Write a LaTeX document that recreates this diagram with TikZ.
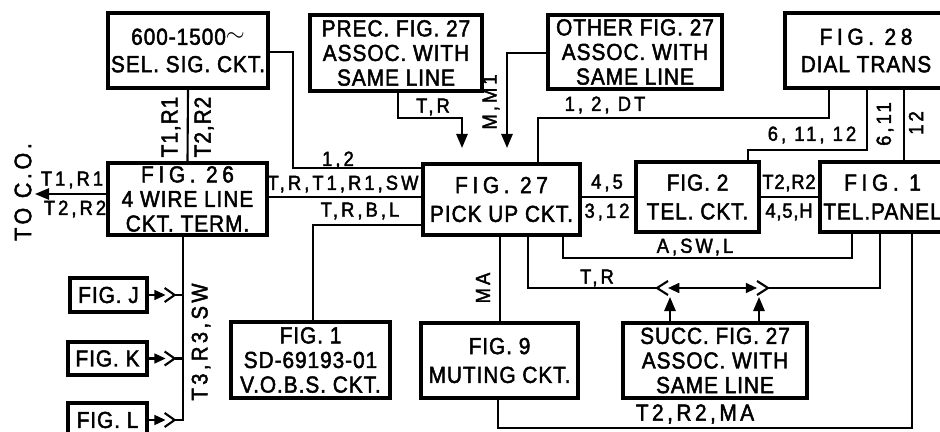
\documentclass[tikz,border=0pt]{standalone}
\usepackage{fontspec}
\setmainfont{Liberation Sans}
\newfontfamily\letterfont[LetterSpace=4,FakeStretch=0.9,FakeBold=2]{Liberation Sans}
\newfontfamily\labelfont[LetterSpace=15,FakeStretch=0.9,FakeBold=2]{Liberation Sans}
\newcommand\wide[1]{{\addfontfeature{LetterSpace=20}#1}}
\usetikzlibrary{arrows.meta,calc}

\tikzset{
  blk/.style={draw, line width=2.3pt, align=center, inner sep=1pt,
    font=\letterfont\fontsize{16.5}{17.5}\selectfont},
  conn/.style={line width=1.5pt},
  lab/.style={inner sep=0pt, font=\labelfont\fontsize{14.5}{15}\selectfont},
  arrowline/.style={conn, -{Triangle[length=10pt,width=8pt]}},
  plugline/.style={conn, -{Triangle[length=8pt,width=7pt]}},
}

\begin{document}
\begin{tikzpicture}[x=0.025cm, y=-0.025cm]
\useasboundingbox (0,0) rectangle (940,432);
\clip (0,0) rectangle (940,432);

% boxes
\node[blk, minimum width=4cm,    minimum height=1.875cm] (sel)    at (188,50.5)     {600-1500\raisebox{.3ex}{$\sim$}\\[2pt]SEL. SIG. CKT.};
\node[blk, minimum width=4.3cm,  minimum height=1.9cm]   (prec)   at (396,53)       {PREC. FIG. 27\\ASSOC. WITH\\SAME LINE};
\node[blk, minimum width=4.35cm, minimum height=1.85cm]  (other)  at (635,52)       {OTHER FIG. 27\\ASSOC. WITH\\SAME LINE};
\node[blk, minimum width=4.05cm, minimum height=1.875cm] (dial)   at (866,50.5)     {\wide{FIG. 28}\\[2pt]DIAL TRANS};
\node[blk, minimum width=3.975cm,minimum height=1.8cm]   (term)   at (187.5,199)    {\wide{FIG. 26}\\4 WIRE LINE\\CKT. TERM.};
\node[blk, minimum width=3.925cm,minimum height=1.775cm] (pick)   at (501.5,199.5)  {\wide{FIG. 27}\\[3pt]PICK UP CKT.};
\node[blk, minimum width=3.075cm,minimum height=1.75cm]  (tel)    at (697.5,197)    {FIG. 2\\[3pt]TEL. CKT.};
\node[blk, minimum width=3.125cm,minimum height=1.75cm]  (panel)  at (882.5,197)    {\wide{FIG. 1}\\[3pt]TEL.PANEL};
\node[blk, minimum width=3.975cm,minimum height=1.9cm]   (vobs)   at (310.5,360)    {FIG. 1\\SD-69193-01\\V.O.B.S. CKT.};
\node[blk, minimum width=3.925cm,minimum height=1.875cm] (muting) at (499.5,360.5)  {FIG. 9\\[3pt]MUTING CKT.};
\node[blk, minimum width=4.6cm,  minimum height=1.875cm] (succ)   at (715,360.5)    {SUCC. FIG. 27\\ASSOC. WITH\\SAME LINE};
\node[blk, minimum width=1.925cm,minimum height=0.85cm]  (figj)   at (108.5,295)    {FIG. J};
\node[blk, minimum width=1.975cm,minimum height=0.825cm] (figk)   at (107.5,358.5)  {FIG. K};
\node[blk, minimum width=1.975cm,minimum height=0.85cm]  (figl)   at (107.5,420)    {FIG. L};

% left side
\draw[conn] (sel.south) -- (term.north);
\draw[arrowline] (term.west |- 0,194) -- (35,194);
\foreach \f in {j,k,l} {
  \draw[plugline] (fig\f.east) -- ++(17,0);
  \draw[conn] ($(fig\f.east)+(16,-7)$) -- ++(10,7) coordinate (v\f) -- ++(-10,7);
}
\draw[conn] (term.south -| 183,0) |- (vl);
\draw[conn] (vj) -- (vj -| 183,0);
\draw[conn] (vk) -- (vk -| 183,0);

% into pick up ckt
\draw[conn] (sel.east |- 0,52) -- (293,52) |- (pick.west |- 0,168);
\draw[conn] (term.east |- 0,197) -- (pick.west |- 0,197);
\draw[conn] (pick.west |- 0,225) -| (vobs.north -| 313,0);
\draw[arrowline] (prec.south -| 398,0) |- (462,118) -- (462,148);
\draw[arrowline] (other.west |- 0,53) -| (507,148);

% right side
\draw[conn] (pick.north -| 538,0) |- (829,118) -- (dial.south -| 829,0);
\draw[conn] (dial.south -| 867,0) |- (748,150) -- (tel.north -| 748,0);
\draw[conn] (dial.south -| 904,0) -- (panel.north -| 904,0);
\draw[conn] (pick.east |- 0,197) -- (tel.west |- 0,197);
\draw[conn] (tel.east |- 0,197) -- (panel.west |- 0,197);
\draw[conn] (pick.south -| 563,0) |- (852,258) -- (panel.south -| 852,0);

% jacks to succ. fig. 27
\coordinate (jackl) at (657,288);
\coordinate (jackr) at (768,288);
\draw[conn] (pick.south -| 528,0) |- (jackl);
\draw[conn] ($(jackl)+(11,-7)$) -- (jackl) -- ++(11,7);
\draw[conn] ($(jackr)+(-11,-7)$) -- (jackr) -- ++(-11,7);
\draw[conn, {Triangle[length=8pt,width=7pt]}-{Triangle[length=8pt,width=7pt]}] ($(jackl)+(11,0)$) -- ($(jackr)+(-11,0)$);
\draw[conn] (jackr) -| (panel.south -| 880,0);
\draw[arrowline] (succ.north -| 670,0) -- (670,297);
\draw[arrowline] (succ.north -| 759,0) -- (759,297);

% muting
\draw[conn] (pick.south -| 500,0) -- (muting.north -| 500,0);
\draw[conn] (muting.south -| 498,0) |- (912,428) -- (panel.south -| 912,0);

% labels
\node[lab] (l12)   at (338,160) {1,2};
\node[lab] (ltrsw) at (343,184) {T,R,T1,R1,SW};
\node[lab] (ltrbl) at (360,211) {T,R,B,L};
\node[lab, rotate=90, font=\labelfont\fontsize{16.5}{17}\selectfont\addfontfeature{LetterSpace=4}] (lselt1) at (171,127) {T1,R1};
\node[lab, rotate=90, font=\labelfont\fontsize{16.5}{17}\selectfont\addfontfeature{LetterSpace=4}] (lselt2) at (204,127) {T2,R2};
\node[lab] (lcot1) at (72,180) {T1,R1};
\node[lab] (lcot2) at (75,209) {T2,R2};
\node[lab, rotate=90, font=\labelfont\fontsize{17}{18}\selectfont] (lco) at (23,192) {TO C.O.};
\node[lab, rotate=90, font=\labelfont\fontsize{16}{17}\selectfont] (lt3) at (201,342) {T3,R3,SW};
\node[lab] (lprec) at (433,107) {T,R};
\node[lab, rotate=90] (lother) at (491,102) {M,M1};
\node[lab] (ldt)   at (605,105) {1, 2, DT};
\node[lab] (l61112) at (812,135) {6, 11, 12};
\node[lab, rotate=90] (l611) at (885,124) {6,11};
\node[lab, rotate=90] (l12b) at (916,123) {12};
\node[lab] (l45)   at (607,183) {4,5};
\node[lab] (l312)  at (607,212) {3,12};
\node[lab, font=\labelfont\fontsize{14.5}{15}\selectfont\addfontfeature{LetterSpace=4}] (ltelt2) at (789,183) {T2,R2};
\node[lab, font=\labelfont\fontsize{14.5}{15}\selectfont\addfontfeature{LetterSpace=4}] (l45h)  at (789,212) {4,5,H};
\node[lab] (lasw)  at (695,247) {A,SW,L};
\node[lab] (ltr)   at (597,278) {T,R};
\node[lab, rotate=90] (lma) at (483,288) {MA};
\node[lab, font=\labelfont\fontsize{16.5}{17}\selectfont] (lmute) at (695,414) {T2,R2,MA};
\end{tikzpicture}
\end{document}
